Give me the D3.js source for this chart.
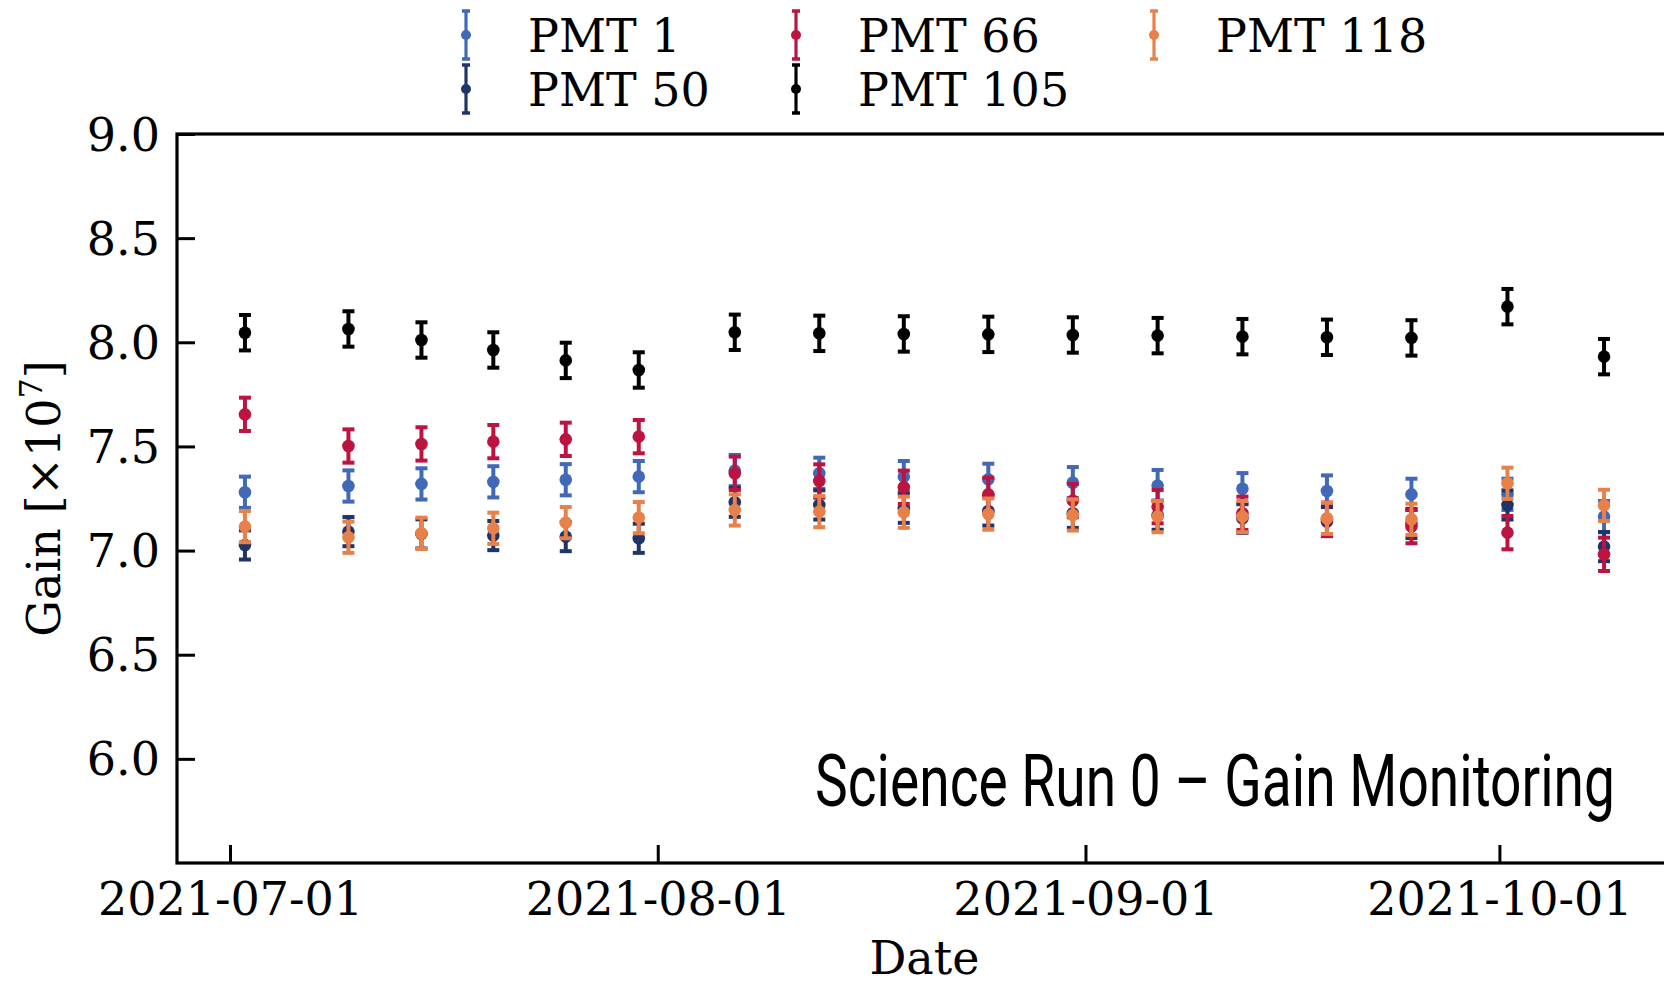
<!DOCTYPE html>
<html>
<head>
<meta charset="utf-8">
<script src="https://cdn.jsdelivr.net/npm/d3@7"></script>
<style>
  html, body { margin: 0; padding: 0; background: #fff; }
  svg { display: block; }
</style>
</head>
<body>
<svg id="chart" width="1664" height="984"></svg>
<script>
// ---- data ----
const dates = ["2021-07-02T02:00","2021-07-09T14:00","2021-07-14T21:00","2021-07-20T02:00","2021-07-25T08:00","2021-07-30T15:00","2021-08-06T14:00","2021-08-12T17:00","2021-08-18T20:00","2021-08-24T23:00","2021-08-31T02:00","2021-09-06T05:30","2021-09-12T09:00","2021-09-18T12:00","2021-09-24T15:00","2021-10-01T14:00","2021-10-08T14:00"];
const seriesNames = ["PMT 1", "PMT 50", "PMT 66", "PMT 105", "PMT 118"];
const pmt1   = [7.280,7.310,7.320,7.330,7.340,7.355,7.384,7.371,7.355,7.342,7.326,7.312,7.297,7.286,7.270,7.270,7.163];
const pmt50  = [7.027,7.091,7.080,7.072,7.067,7.059,7.232,7.219,7.203,7.190,7.179,7.170,7.155,7.139,7.130,7.219,7.019];
const pmt66  = [7.654,7.502,7.512,7.523,7.534,7.547,7.371,7.334,7.304,7.270,7.240,7.211,7.179,7.150,7.115,7.086,6.982];
const pmt105 = [8.046,8.064,8.011,7.963,7.913,7.867,8.048,8.043,8.040,8.038,8.035,8.032,8.027,8.024,8.021,8.171,7.931];
const pmt118 = [7.115,7.064,7.083,7.107,7.134,7.158,7.195,7.187,7.184,7.175,7.171,7.163,7.163,7.155,7.150,7.323,7.217];
const seriesErrors = [0.075, 0.070, 0.080, 0.085, 0.075];
const seriesColors = ["#4169b8", "#1f3467", "#bc1340", "#000000", "#e8804a"];
const yTicks = [6.0, 6.5, 7.0, 7.5, 8.0, 8.5, 9.0];
const xTickLabels = ["2021-07-01", "2021-08-01", "2021-09-01", "2021-10-01"];
const yRange = [5.5, 9.0];

// ---- layout ----
const L = 177, T = 134, R = 1672, B = 863;
const serif = "'DejaVu Serif', serif";
const FS = 46;
const svg = d3.select("#chart");

const parse = s => new Date(s + ":00Z");
const xs = dates.map(parse);
const ext = d3.extent(xs);
const pad = (ext[1] - ext[0]) * 0.05;
const x = d3.scaleUtc().domain([new Date(+ext[0] - pad), new Date(+ext[1] + pad)]).range([L, R]);
const y = d3.scaleLinear().domain(yRange).range([B, T]);

const allSeries = [pmt1, pmt50, pmt66, pmt105, pmt118];

// ---- error bars + markers ----
const capW = 6;
allSeries.forEach((vals, si) => {
  const g = svg.append("g").attr("fill", seriesColors[si]).attr("stroke", seriesColors[si]);
  const err = seriesErrors[si];
  vals.forEach((v, i) => {
    const cx = x(xs[i]);
    g.append("line").attr("x1", cx).attr("x2", cx).attr("y1", y(v - err)).attr("y2", y(v + err)).attr("stroke-width", 4);
    g.append("line").attr("x1", cx - capW).attr("x2", cx + capW).attr("y1", y(v - err)).attr("y2", y(v - err)).attr("stroke-width", 4);
    g.append("line").attr("x1", cx - capW).attr("x2", cx + capW).attr("y1", y(v + err)).attr("y2", y(v + err)).attr("stroke-width", 4);
    g.append("circle").attr("cx", cx).attr("cy", y(v)).attr("r", 6.3).attr("stroke", "none");
  });
});

// ---- axes ----
const yAxis = d3.axisLeft(y).tickValues(yTicks).tickFormat(d3.format(".1f")).tickSizeInner(-18).tickSizeOuter(0).tickPadding(17);
const gy = svg.append("g").attr("transform", `translate(${L},0)`).call(yAxis);
gy.select(".domain").remove();
gy.selectAll(".tick line").attr("stroke", "#000").attr("stroke-width", 3);
gy.selectAll(".tick text").attr("font-family", serif).attr("font-size", FS).attr("fill", "#000").attr("dy", "0.35em");

const xTickDates = xTickLabels.map(s => new Date(s + "T00:00:00Z"));
const xAxis = d3.axisBottom(x).tickValues(xTickDates).tickFormat(d3.utcFormat("%Y-%m-%d")).tickSizeInner(-18).tickSizeOuter(0).tickPadding(19);
const gx = svg.append("g").attr("transform", `translate(0,${B})`).call(xAxis);
gx.select(".domain").remove();
gx.selectAll(".tick line").attr("stroke", "#000").attr("stroke-width", 3);
gx.selectAll(".tick text").attr("font-family", serif).attr("font-size", FS).attr("fill", "#000");

// frame
svg.append("rect").attr("x", L).attr("y", T).attr("width", R - L).attr("height", B - T)
  .attr("fill", "none").attr("stroke", "#000").attr("stroke-width", 3.2);

// axis labels
svg.append("text").attr("x", (L + R) / 2).attr("y", 974).attr("text-anchor", "middle")
  .attr("font-family", serif).attr("font-size", FS).text("Date");

const yl = svg.append("text").attr("transform", `translate(60,${(T + B) / 2}) rotate(-90)`)
  .attr("text-anchor", "middle").attr("font-family", serif).attr("font-size", FS);
yl.append("tspan").text("Gain [×10");
yl.append("tspan").attr("font-size", 32).attr("dy", -18).text("7");
yl.append("tspan").attr("dy", 18).text("]");

// annotation (condensed by horizontal scaling to the reference width)
const ann = svg.append("g");
const annText = ann.append("text").attr("x", 0).attr("y", 0).attr("text-anchor", "end")
  .attr("font-family", "Roboto, sans-serif").attr("font-size", 72)
  .text("Science Run 0 – Gain Monitoring");
const natW = annText.node().getComputedTextLength();
const sx = 800 / natW;
ann.attr("transform", `translate(1615,806) scale(${sx},1)`);

// ---- legend ----
const legendPos = [
  {mx: 466, ty: 35}, {mx: 466, ty: 89},
  {mx: 796, ty: 35}, {mx: 796, ty: 89},
  {mx: 1154, ty: 35}
];
seriesNames.forEach((name, si) => {
  const p = legendPos[si];
  const g = svg.append("g").attr("stroke", seriesColors[si]).attr("fill", seriesColors[si]);
  g.append("line").attr("x1", p.mx).attr("x2", p.mx).attr("y1", p.ty - 24).attr("y2", p.ty + 24).attr("stroke-width", 3.2);
  g.append("line").attr("x1", p.mx - 4).attr("x2", p.mx + 4).attr("y1", p.ty - 24).attr("y2", p.ty - 24).attr("stroke-width", 3.5);
  g.append("line").attr("x1", p.mx - 4).attr("x2", p.mx + 4).attr("y1", p.ty + 24).attr("y2", p.ty + 24).attr("stroke-width", 3.5);
  g.append("circle").attr("cx", p.mx).attr("cy", p.ty).attr("r", 5).attr("stroke", "none");
  svg.append("text").attr("x", p.mx + 62).attr("y", p.ty).attr("dy", "0.36em")
    .attr("font-family", serif).attr("font-size", FS).attr("fill", "#000").text(name);
});
</script>
</body>
</html>
